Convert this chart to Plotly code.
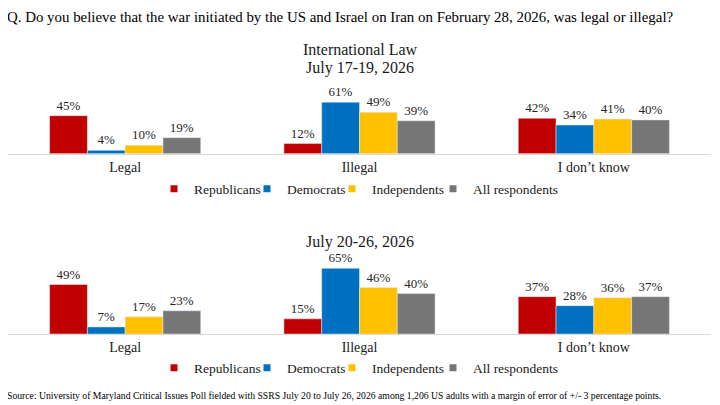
import plotly.graph_objects as go

categories = ["Legal", "Illegal", "I don\u2019t know"]
series_names = ["Republicans", "Democrats", "Independents", "All respondents"]
colors = ["#C00000", "#0070C0", "#FFC000", "#767676"]

# July 17-19, 2026
wave1 = {
    "Republicans": [45, 12, 42],
    "Democrats": [4, 61, 34],
    "Independents": [10, 49, 41],
    "All respondents": [19, 39, 40],
}
# July 20-26, 2026
wave2 = {
    "Republicans": [49, 15, 37],
    "Democrats": [7, 65, 28],
    "Independents": [17, 46, 36],
    "All respondents": [23, 40, 37],
}

FONT = "Liberation Serif"
OFF = 8  # page body margin
W, H = 720 - OFF, 405 - OFF

def px_x(px):
    return (px - OFF) / W

def px_y(py):
    return 1 - (py - OFF) / H

legend_widths = [48, 40, 56, None]

fig = go.Figure()

for data, xa, ya, lg in [(wave1, "x", "y", "legend"), (wave2, "x2", "y2", "legend2")]:
    for name, col in zip(series_names, colors):
        vals = data[name]
        fig.add_trace(go.Bar(
            x=categories, y=vals, name=name, marker_color=col,
            text=[f"{v}%" for v in vals], textposition="outside",
            textfont=dict(family=FONT, size=13, color="#262626"),
            cliponaxis=False, xaxis=xa, yaxis=ya, showlegend=False,
            hoverinfo="skip",
        ))
    for name, col, lw in zip(series_names, colors, legend_widths):
        kw = dict(legendwidth=lw) if lw else {}
        fig.add_trace(go.Scatter(
            x=[None], y=[None], mode="markers", name=name,
            marker=dict(symbol="square", size=7, color=col),
            xaxis=xa, yaxis=ya, legend=lg, **kw,
        ))

xdom = [px_x(8), px_x(711)]
axis_common = dict(
    type="category", categoryorder="array", categoryarray=categories,
    showline=True, linecolor="#d9d9d9", linewidth=1, ticks="",
    showgrid=False, tickfont=dict(family=FONT, size=14, color="#1a1a1a"),
    fixedrange=True,
)
yaxis_common = dict(range=[0, 70], visible=False, showgrid=False, fixedrange=True)

legend_common = dict(
    orientation="h", xanchor="left", yanchor="middle",
    font=dict(family=FONT, size=13.5, color="#1a1a1a"),
    bgcolor="rgba(0,0,0,0)", itemclick=False, itemdoubleclick=False,
)

fig.update_layout(
    width=W, height=H,
    margin=dict(l=0, r=0, t=0, b=0),
    paper_bgcolor="white", plot_bgcolor="white",
    barmode="group", bargap=0.355, bargroupgap=0,
    font=dict(family=FONT, color="#1a1a1a"),
    xaxis=dict(domain=xdom, anchor="y", **axis_common),
    yaxis=dict(domain=[px_y(153.7), px_y(153.7 - 70 * 0.845)], anchor="x", **yaxis_common),
    xaxis2=dict(domain=xdom, anchor="y2", **axis_common),
    yaxis2=dict(domain=[px_y(334), px_y(334 - 70 * 1.01)], anchor="x2", **yaxis_common),
    legend=dict(x=px_x(154), y=px_y(189), **legend_common),
    legend2=dict(x=px_x(154), y=px_y(368), **legend_common),
    annotations=[
        dict(text="Q. Do you believe that the war initiated by the US and Israel on Iran on February 28, 2026, was legal or illegal?",
             x=px_x(5), y=px_y(16.5), xref="paper", yref="paper", xanchor="left", yanchor="middle",
             showarrow=False, font=dict(family=FONT, size=14.9, color="#000000")),
        dict(text="International Law", x=px_x(360), y=px_y(50), xref="paper", yref="paper",
             xanchor="center", yanchor="middle", showarrow=False,
             font=dict(family=FONT, size=16, color="#1a1a1a")),
        dict(text="July 17-19, 2026", x=px_x(360), y=px_y(68), xref="paper", yref="paper",
             xanchor="center", yanchor="middle", showarrow=False,
             font=dict(family=FONT, size=16, color="#1a1a1a")),
        dict(text="July 20-26, 2026", x=px_x(360), y=px_y(242.5), xref="paper", yref="paper",
             xanchor="center", yanchor="middle", showarrow=False,
             font=dict(family=FONT, size=16, color="#1a1a1a")),
        dict(text="Source: University of Maryland Critical Issues Poll fielded with SSRS July 20 to July 26, 2026 among 1,206 US adults with a margin of error of +/- 3 percentage points.",
             x=px_x(5), y=px_y(395), xref="paper", yref="paper", xanchor="left", yanchor="middle",
             showarrow=False, font=dict(family=FONT, size=9.7, color="#000000")),
    ],
)

fig.write_html("out.html")
